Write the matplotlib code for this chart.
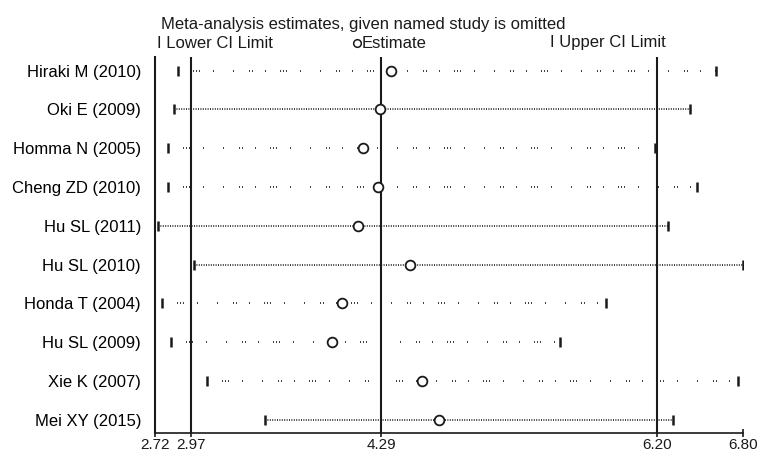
import matplotlib
matplotlib.use("Agg")
import matplotlib.pyplot as plt
from matplotlib.lines import Line2D

# studies omitted, in plotted order
studies = ["Hiraki M (2010)", "Oki E (2009)", "Homma N (2005)", "Cheng ZD (2010)",
           "Hu SL (2011)", "Hu SL (2010)", "Honda T (2004)", "Hu SL (2009)",
           "Xie K (2007)", "Mei XY (2015)"]
lower = [2.88, 2.85, 2.81, 2.81, 2.74, 2.99, 2.77, 2.83, 3.08, 3.48]
estimate = [4.36, 4.28, 4.16, 4.27, 4.13, 4.49, 4.02, 3.95, 4.57, 4.69]
upper = [6.61, 6.43, 6.19, 6.48, 6.28, 6.80, 5.85, 5.53, 6.76, 6.31]

# reference lines and x ticks
ref_lines = [2.97, 4.29, 6.20]
xticks = [2.72, 2.97, 4.29, 6.20, 6.80]
xtick_labels = ["2.72", "2.97", "4.29", "6.20", "6.80"]

# rows drawn with a dense dotted line (others are sparse dots)
dense_rows = [1, 4, 5, 9]

plt.rcParams['font.family'] = ['Liberation Sans', 'DejaVu Sans']
plt.rcParams['lines.scale_dashes'] = False

px = 0.72  # one pixel in points at dpi 100
dense = (0, (1 * px, 1.4 * px))
sparse = (0, (1*px, 14*px, 1*px, 2*px, 1*px, 2*px, 1*px, 13*px,
              1*px, 19*px, 1*px, 15*px, 1*px, 2*px, 1*px, 12*px))

fig = plt.figure(figsize=(7.63, 4.55), dpi=100)
ax = fig.add_axes([155 / 763, 1 - 433 / 455, 588.3 / 763, 376 / 455])

ink = "#1a1a1a"
for i in range(len(studies)):
    ls = dense if i in dense_rows else sparse
    ax.plot([lower[i], upper[i]], [i, i], color=ink, lw=1.2, linestyle=ls,
            solid_capstyle="butt", dash_capstyle="butt", clip_on=True)
    ax.plot([lower[i], upper[i]], [i, i], linestyle="none", marker="|",
            markersize=7, markeredgewidth=1.8, color=ink)
    ax.plot(estimate[i], i, linestyle="none", marker="o", markersize=7,
            markerfacecolor="white", markeredgecolor=ink, markeredgewidth=1.3,
            zorder=5)

for v in ref_lines:
    ax.axvline(v, color=ink, lw=1.5, zorder=3)

ax.set_xlim(2.72, 6.80)
ax.set_ylim(9.34, -0.35)
ax.set_yticks(range(len(studies)))
ax.set_yticklabels(studies, fontsize=12)
ax.set_xticks(xticks)
ax.set_xticklabels(xtick_labels, fontsize=11)
ax.tick_params(axis="y", length=0, pad=10)
ax.tick_params(axis="x", direction="inout", length=6, width=1.2, pad=0.5, colors=ink)
for s in ["top", "right"]:
    ax.spines[s].set_visible(False)
ax.spines["left"].set_linewidth(1.5)
ax.spines["bottom"].set_linewidth(1.2)
ax.spines["left"].set_color(ink)
ax.spines["bottom"].set_color(ink)

fig.text(161 / 763, 1 - 24 / 455, "Meta-analysis estimates, given named study is omitted",
         fontsize=12, va="center", ha="left", color=ink)
fig.text(157 / 763, 1 - 43 / 455, "I Lower CI Limit", fontsize=12,
         va="center", ha="left", color=ink)
fig.add_artist(Line2D([357 / 763], [1 - 43 / 455], marker="o", markersize=5.5,
                      markerfacecolor="white", markeredgecolor=ink,
                      markeredgewidth=1.1, transform=fig.transFigure))
fig.text(362 / 763, 1 - 43 / 455, "Estimate", fontsize=12,
         va="center", ha="left", color=ink)
fig.text(550 / 763, 1 - 43 / 455, "I Upper CI Limit", fontsize=12,
         va="center", ha="left", color=ink)

fig.savefig("out.png", dpi=100)
